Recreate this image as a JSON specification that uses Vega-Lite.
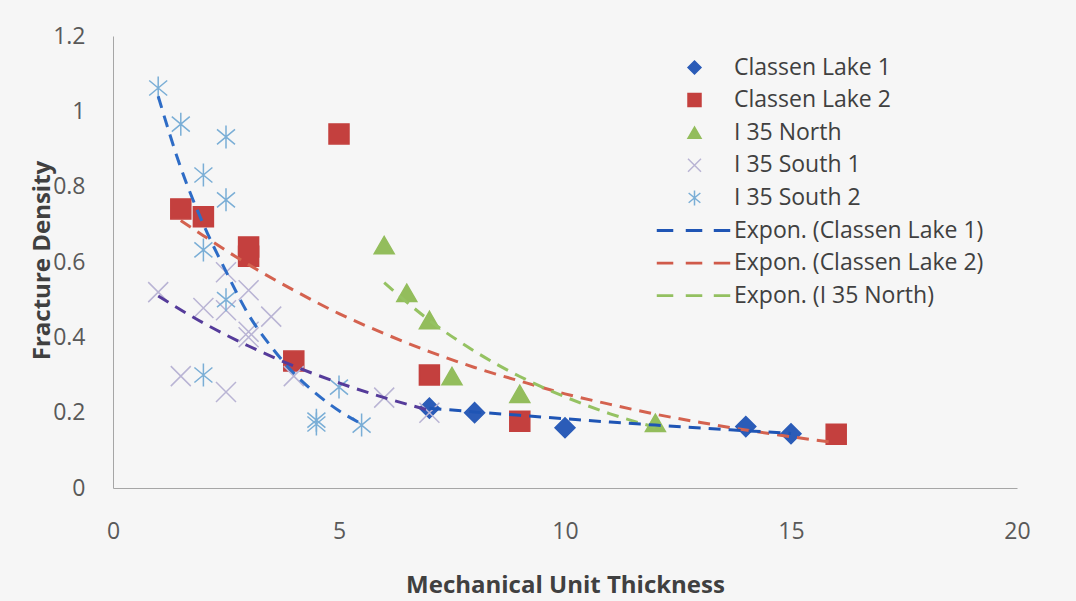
{
  "$schema": "https://vega.github.io/schema/vega-lite/v6.json",
  "width": 904,
  "height": 452,
  "autosize": {"type": "none"},
  "padding": {"left": 113, "top": 36, "right": 59, "bottom": 113},
  "background": "#f6f6f6",
  "config": {
    "view": {"stroke": null},
    "font": "Open Sans",
    "axis": {
      "grid": false,
      "ticks": false,
      "tickSize": 0,
      "labelFlush": false,
      "domainColor": "#a6a6a6",
      "domainWidth": 1,
      "labelColor": "#595959",
      "labelFont": "Open Sans",
      "labelFontSize": 23,
      "titleColor": "#404040",
      "titleFont": "Open Sans",
      "titleFontSize": 24,
      "titleFontWeight": "bold"
    },
    "legend": {
      "orient": "none",
      "legendX": 570,
      "legendY": 20,
      "padding": 0,
      "symbolOffset": 0,
      "labelFont": "Open Sans",
      "labelFontSize": 23,
      "labelColor": "#404040",
      "labelLimit": 500,
      "symbolSize": 169,
      "symbolStrokeWidth": 1.5,
      "rowPadding": 8.6,
      "labelOffset": 28
    }
  },
  "datasets": {
    "points": [
      {"series": "Classen Lake 1", "x": 7, "y": 0.212},
      {"series": "Classen Lake 1", "x": 8, "y": 0.2},
      {"series": "Classen Lake 1", "x": 10, "y": 0.16},
      {"series": "Classen Lake 1", "x": 14, "y": 0.163},
      {"series": "Classen Lake 1", "x": 15, "y": 0.144},
      {"series": "Classen Lake 2", "x": 1.5, "y": 0.741},
      {"series": "Classen Lake 2", "x": 2, "y": 0.72},
      {"series": "Classen Lake 2", "x": 3, "y": 0.64},
      {"series": "Classen Lake 2", "x": 3, "y": 0.615},
      {"series": "Classen Lake 2", "x": 4, "y": 0.337},
      {"series": "Classen Lake 2", "x": 5, "y": 0.94},
      {"series": "Classen Lake 2", "x": 7, "y": 0.3},
      {"series": "Classen Lake 2", "x": 9, "y": 0.177},
      {"series": "Classen Lake 2", "x": 16, "y": 0.143},
      {"series": "I 35 North", "x": 6, "y": 0.645},
      {"series": "I 35 North", "x": 6.5, "y": 0.518},
      {"series": "I 35 North", "x": 7, "y": 0.446},
      {"series": "I 35 North", "x": 7.5, "y": 0.297},
      {"series": "I 35 North", "x": 9, "y": 0.25},
      {"series": "I 35 North", "x": 12, "y": 0.173},
      {"series": "I 35 South 1", "x": 1, "y": 0.52},
      {"series": "I 35 South 1", "x": 1.5, "y": 0.297},
      {"series": "I 35 South 1", "x": 2, "y": 0.478},
      {"series": "I 35 South 1", "x": 2.5, "y": 0.255},
      {"series": "I 35 South 1", "x": 2.5, "y": 0.573},
      {"series": "I 35 South 1", "x": 2.5, "y": 0.472},
      {"series": "I 35 South 1", "x": 3, "y": 0.525},
      {"series": "I 35 South 1", "x": 3, "y": 0.415},
      {"series": "I 35 South 1", "x": 3, "y": 0.4},
      {"series": "I 35 South 1", "x": 3.5, "y": 0.455},
      {"series": "I 35 South 1", "x": 4, "y": 0.297},
      {"series": "I 35 South 1", "x": 6, "y": 0.24},
      {"series": "I 35 South 1", "x": 7, "y": 0.2},
      {"series": "I 35 South 2", "x": 1, "y": 1.062},
      {"series": "I 35 South 2", "x": 1.5, "y": 0.966},
      {"series": "I 35 South 2", "x": 2, "y": 0.831},
      {"series": "I 35 South 2", "x": 2, "y": 0.632},
      {"series": "I 35 South 2", "x": 2, "y": 0.3},
      {"series": "I 35 South 2", "x": 2.5, "y": 0.932},
      {"series": "I 35 South 2", "x": 2.5, "y": 0.765},
      {"series": "I 35 South 2", "x": 2.5, "y": 0.5},
      {"series": "I 35 South 2", "x": 4.5, "y": 0.17},
      {"series": "I 35 South 2", "x": 4.5, "y": 0.18},
      {"series": "I 35 South 2", "x": 5, "y": 0.268},
      {"series": "I 35 South 2", "x": 5.5, "y": 0.167}
    ],
    "trends": [
      {"trend": "S2", "x": 1, "y": 1.04},
      {"trend": "S2", "x": 1.5, "y": 0.85},
      {"trend": "S2", "x": 2, "y": 0.7},
      {"trend": "S2", "x": 2.5, "y": 0.575},
      {"trend": "S2", "x": 3, "y": 0.46},
      {"trend": "S2", "x": 3.5, "y": 0.375},
      {"trend": "S2", "x": 4, "y": 0.305},
      {"trend": "S2", "x": 4.5, "y": 0.25},
      {"trend": "S2", "x": 5, "y": 0.205},
      {"trend": "S2", "x": 5.5, "y": 0.17},
      {"trend": "S1", "x": 1, "y": 0.51},
      {"trend": "S1", "x": 2, "y": 0.438},
      {"trend": "S1", "x": 3, "y": 0.377},
      {"trend": "S1", "x": 4, "y": 0.324},
      {"trend": "S1", "x": 5, "y": 0.279},
      {"trend": "S1", "x": 6, "y": 0.24},
      {"trend": "S1", "x": 7, "y": 0.206},
      {"trend": "CL2", "x": 1.5, "y": 0.71},
      {"trend": "CL2", "x": 2, "y": 0.67},
      {"trend": "CL2", "x": 3, "y": 0.593},
      {"trend": "CL2", "x": 4, "y": 0.525},
      {"trend": "CL2", "x": 5, "y": 0.463},
      {"trend": "CL2", "x": 6, "y": 0.41},
      {"trend": "CL2", "x": 7, "y": 0.362},
      {"trend": "CL2", "x": 8, "y": 0.32},
      {"trend": "CL2", "x": 9, "y": 0.284},
      {"trend": "CL2", "x": 10, "y": 0.25},
      {"trend": "CL2", "x": 11, "y": 0.222},
      {"trend": "CL2", "x": 12, "y": 0.196},
      {"trend": "CL2", "x": 13, "y": 0.174},
      {"trend": "CL2", "x": 14, "y": 0.154},
      {"trend": "CL2", "x": 15, "y": 0.136},
      {"trend": "CL2", "x": 16, "y": 0.12},
      {"trend": "N", "x": 6, "y": 0.545},
      {"trend": "N", "x": 7, "y": 0.445},
      {"trend": "N", "x": 8, "y": 0.363},
      {"trend": "N", "x": 9, "y": 0.296},
      {"trend": "N", "x": 10, "y": 0.242},
      {"trend": "N", "x": 11, "y": 0.197},
      {"trend": "N", "x": 12, "y": 0.161},
      {"trend": "CL1", "x": 7, "y": 0.212},
      {"trend": "CL1", "x": 8, "y": 0.202},
      {"trend": "CL1", "x": 9, "y": 0.193},
      {"trend": "CL1", "x": 10, "y": 0.184},
      {"trend": "CL1", "x": 11, "y": 0.175},
      {"trend": "CL1", "x": 12, "y": 0.167},
      {"trend": "CL1", "x": 13, "y": 0.159},
      {"trend": "CL1", "x": 14, "y": 0.152},
      {"trend": "CL1", "x": 15, "y": 0.145}
    ]
  },
  "encoding": {
    "x": {
      "field": "x",
      "type": "quantitative",
      "scale": {"domain": [0, 20], "nice": false, "zero": false},
      "axis": {
        "title": "Mechanical Unit Thickness",
        "values": [0, 5, 10, 15, 20],
        "labelPadding": 32,
        "titleX": 452,
        "titleY": 97,
        "titleBaseline": "middle"
      }
    },
    "y": {
      "field": "y",
      "type": "quantitative",
      "scale": {"domain": [0, 1.2], "nice": false, "zero": false},
      "axis": {
        "title": "Fracture Density",
        "values": [0, 0.2, 0.4, 0.6, 0.8, 1, 1.2],
        "format": "~g",
        "labelPadding": 28,
        "titleX": -71,
        "titleY": 224,
        "titleBaseline": "middle"
      }
    }
  },
  "layer": [
    {
      "data": {"name": "points"},
      "mark": {"type": "point", "size": 400, "strokeWidth": 1.5, "opacity": 1},
      "encoding": {
        "fill": {
          "field": "series",
          "type": "nominal",
          "scale": {
            "domain": ["Classen Lake 1", "Classen Lake 2", "I 35 North", "I 35 South 1", "I 35 South 2", "Expon. (Classen Lake 1)", "Expon. (Classen Lake 2)", "Expon. (I 35 North)"],
            "range": ["#2b5cb8", "#c4403e", "#93bd5c", "transparent", "transparent", "#1f55b5", "#d05a4a", "#93c060"]
          },
          "legend": {"title": null, "orient": "none", "legendX": 570, "legendY": 20}
        },
        "stroke": {
          "field": "series",
          "type": "nominal",
          "scale": {
            "domain": ["Classen Lake 1", "Classen Lake 2", "I 35 North", "I 35 South 1", "I 35 South 2", "Expon. (Classen Lake 1)", "Expon. (Classen Lake 2)", "Expon. (I 35 North)"],
            "range": ["#2b5cb8", "#c4403e", "#93bd5c", "#b9b4d4", "#7aaed6", "#1f55b5", "#d05a4a", "#93c060"]
          },
          "legend": {"title": null, "orient": "none", "legendX": 570, "legendY": 20}
        },
        "shape": {
          "field": "series",
          "type": "nominal",
          "scale": {
            "domain": ["Classen Lake 1", "Classen Lake 2", "I 35 North", "I 35 South 1", "I 35 South 2", "Expon. (Classen Lake 1)", "Expon. (Classen Lake 2)", "Expon. (I 35 North)"],
            "range": [
              "diamond",
              "square",
              "triangle-up",
              "M-1,-1L1,1M-1,1L1,-1",
              "M-0.9,-0.75L0.9,0.75M-0.9,0.75L0.9,-0.75M0,-1.15L0,1.15",
              "M-5.69,-0.1H-3.38V0.1H-5.69ZM-1.23,-0.1H1.08V0.1H-1.23ZM3.08,-0.1H5.38V0.1H3.08Z",
              "M-5.69,-0.1H-3.38V0.1H-5.69ZM-1.23,-0.1H1.08V0.1H-1.23ZM3.08,-0.1H5.38V0.1H3.08Z",
              "M-5.69,-0.1H-3.38V0.1H-5.69ZM-1.23,-0.1H1.08V0.1H-1.23ZM3.08,-0.1H5.38V0.1H3.08Z"
            ]
          },
          "legend": {"title": null, "orient": "none", "legendX": 570, "legendY": 20}
        }
      }
    },
    {
      "data": {"name": "trends"},
      "mark": {"type": "line", "strokeWidth": 3, "strokeDash": [12, 8], "interpolate": "monotone"},
      "encoding": {
        "detail": {"field": "trend", "type": "nominal"},
        "color": {
          "field": "trend",
          "type": "nominal",
          "scale": {
            "domain": ["S2", "S1", "CL2", "N", "CL1"],
            "range": ["#2e6cc6", "#553b9a", "#d4624f", "#95c262", "#1f55b5"]
          },
          "legend": null
        }
      }
    }
  ]
}
